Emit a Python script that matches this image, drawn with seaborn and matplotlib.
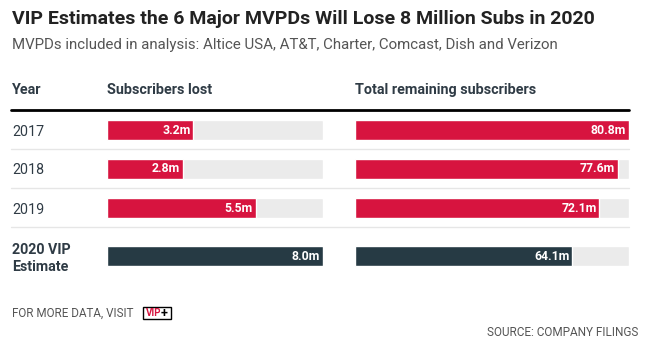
import matplotlib.pyplot as plt
from matplotlib.lines import Line2D
from matplotlib.patches import Rectangle
import pandas as pd
import seaborn as sns

# Data
years = ['2017', '2018', '2019', '2020 VIP\nEstimate']
subs_lost = [3.2, 2.8, 5.5, 8.0]
subs_remaining = [80.8, 77.6, 72.1, 64.1]
is_estimate = [False, False, False, True]

title = 'VIP Estimates the 6 Major MVPDs Will Lose 8 Million Subs in 2020'
subtitle = 'MVPDs included in analysis: Altice USA, AT&T, Charter, Comcast, Dish and Verizon'
headers = ['Year', 'Subscribers lost', 'Total remaining subscribers']
footer = 'FOR MORE DATA, VISIT'
source = 'SOURCE: COMPANY FILINGS'

RED = '#D7143F'
DARK = '#263A44'
TRACK = '#EBEBEB'
TEXT = '#2F3B45'
GREY = '#555555'
BAR_W = 20 / 39

W, H = 650, 355

sns.set_theme(style='white')
plt.rcParams['font.family'] = ['Roboto', 'DejaVu Sans']

fig = plt.figure(figsize=(W / 100, H / 100), dpi=100)


def fx(x):
    return x / W


def fy(y):
    return 1 - y / H


def px_axes(x0, y0, x1, y1):
    return fig.add_axes([fx(x0), fy(y1), (x1 - x0) / W, (y1 - y0) / H])


df = pd.DataFrame({'year': years, 'lost': subs_lost,
                   'remaining': subs_remaining, 'estimate': is_estimate})

columns = [('lost', 107, 323), ('remaining', 355, 629)]
groups = [(df[~df['estimate']], 110.5, 227.5, RED),
          (df[df['estimate']], 236.5, 275.5, DARK)]

for col, x0, x1 in columns:
    xmax = df[col].max()
    for sub, y0, y1, color in groups:
        ax = px_axes(x0, y0, x1, y1)
        ax.patch.set_alpha(0)
        track = sub.assign(full=xmax)
        sns.barplot(data=track, x='full', y='year', orient='h', color=TRACK,
                    saturation=1, width=BAR_W, ax=ax)
        sns.barplot(data=sub, x=col, y='year', orient='h', color=color,
                    saturation=1, width=BAR_W, ax=ax)
        for i, v in enumerate(sub[col]):
            ax.annotate(f'{v:.1f}m', xy=(v, i), xytext=(-2, 0),
                        textcoords='offset points', ha='right', va='center',
                        color='white', fontsize=8.8, fontweight='bold')
        ax.set_xlim(0, xmax)
        ax.set_ylim(len(sub) - 0.5, -0.5)
        ax.set_xlabel('')
        ax.set_ylabel('')
        ax.set_xticks([])
        sns.despine(ax=ax, left=True, bottom=True)
        if col == 'lost':
            ax.tick_params(axis='y', length=0, pad=95 * 0.72,
                           labelsize=10.3, labelcolor=TEXT)
            for lbl, est in zip(ax.get_yticklabels(), sub['estimate']):
                lbl.set_ha('left')
                if est:
                    lbl.set_fontweight('bold')
                    lbl.set_linespacing(1.2)
        else:
            ax.set_yticks([])

# titles
fig.text(fx(12), fy(19), title, fontsize=14, fontweight='bold',
         color='#222222', va='center')
fig.text(fx(12), fy(45), subtitle, fontsize=10.8, color=GREY, va='center')

# column headers
for txt, x in zip(headers, [12, 107, 355]):
    fig.text(fx(x), fy(90), txt, fontsize=10.4, fontweight='bold',
             color=TEXT, va='center')

# rules
fig.add_artist(Line2D([fx(11), fx(629)], [fy(110), fy(110)],
                      color='black', lw=2))
for y in [149, 188, 227]:
    fig.add_artist(Line2D([fx(11), fx(629)], [fy(y), fy(y)],
                          color='#E6E6E6', lw=1))

# footer
fig.text(fx(12), fy(313), footer, fontsize=8.4, color=GREY, va='center')
fig.add_artist(Rectangle((fx(143), fy(319)), 28 / W, 12 / H,
                         fill=False, edgecolor='black', lw=1))
fig.text(fx(146), fy(313), 'VIP', fontsize=7, color=RED,
         fontweight='bold', va='center')
fig.text(fx(161), fy(313), '+', fontsize=9, color='black',
         fontweight='bold', va='center')
fig.text(fx(638), fy(332), source, fontsize=8.5, color=GREY,
         va='center', ha='right')

fig.savefig('out.png', dpi=100)
